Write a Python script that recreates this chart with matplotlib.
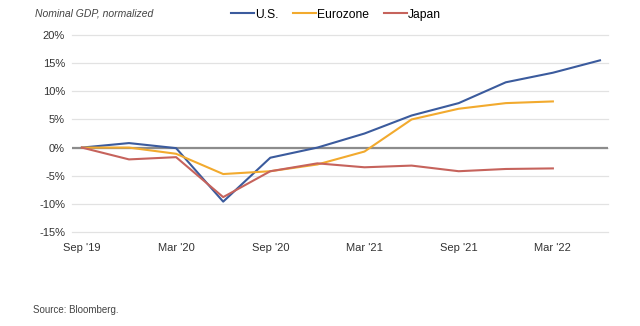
import numpy as np
import matplotlib.pyplot as plt

plt.rcParams['font.family'] = ['Liberation Sans', 'DejaVu Sans']

# quarterly, Sep '19 .. Jun '22
quarters = ["Sep '19", "Dec '19", "Mar '20", "Jun '20", "Sep '20", "Dec '20",
            "Mar '21", "Jun '21", "Sep '21", "Dec '21", "Mar '22", "Jun '22"]
us = [0.0, 0.8, -0.1, -9.6, -1.8, 0.0, 2.5, 5.7, 7.9, 11.6, 13.3, 15.5]
eurozone = [0.0, 0.0, -1.1, -4.7, -4.2, -3.0, -0.7, 5.0, 6.9, 7.9, 8.2]
japan = [0.0, -2.1, -1.7, -8.8, -4.2, -2.8, -3.5, -3.2, -4.2, -3.8, -3.7]

tick_labels = ["Sep '19", "Mar '20", "Sep '20", "Mar '21", "Sep '21", "Mar '22"]

fig = plt.figure(figsize=(6.4, 3.26), dpi=100)
ax = fig.add_axes([0.1125, 0.2883, 0.8375, 0.6043])

x = np.arange(len(quarters))
ax.plot(x, us, color='#3b5b9d', lw=1.5, label='U.S.', zorder=3)
ax.plot(x[:len(eurozone)], eurozone, color='#f2aa2e', lw=1.5, label='Eurozone', zorder=3)
ax.plot(x[:len(japan)], japan, color='#c6635c', lw=1.5, label='Japan', zorder=3)

ax.set_ylim(-15, 20)
ax.set_xlim(-0.21, 11.17)
ax.set_yticks(np.arange(-15, 21, 5))
ax.set_yticklabels([f'{v}%' for v in range(-15, 21, 5)])
ax.set_xticks(np.arange(0, 12, 2))
ax.set_xticklabels(tick_labels)

ax.grid(axis='y', color='#e2e2e2', lw=0.9)
for g in ax.yaxis.get_gridlines():
    g.set_clip_on(False)
ax.axhline(0, color='#8c8c8c', lw=1.6, zorder=2)
ax.set_axisbelow(True)
for s in ax.spines.values():
    s.set_visible(False)
ax.tick_params(length=0, labelsize=8, colors='#333333')
ax.tick_params(axis='y', pad=5)
ax.tick_params(axis='x', pad=8)

fig.text(0.055, 0.96, 'Nominal GDP, normalized', fontsize=7.5, style='italic',
         color='#444444', va='center')
fig.legend(loc='center', bbox_to_anchor=(0.525, 0.955), ncol=3, frameon=False,
           fontsize=8.7, handlelength=1.9, handletextpad=0.1, columnspacing=1.2)
fig.text(0.052, 0.048, 'Source: Bloomberg.', fontsize=7, color='#444444', va='center')

fig.savefig('out.png', dpi=100)
